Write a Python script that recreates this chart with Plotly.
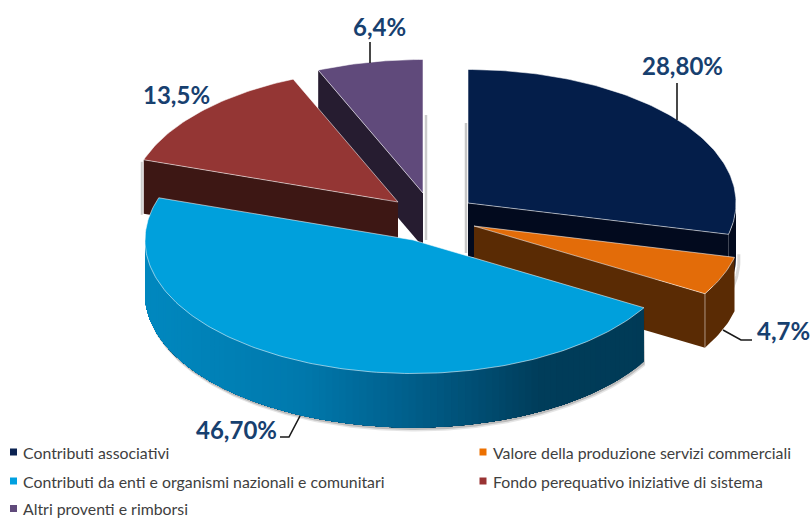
import math
import plotly.graph_objects as go

categories = ["Contributi associativi", "Valore della produzione servizi commerciali",
              "Contributi da enti e organismi nazionali e comunitari",
              "Fondo perequativo iniziative di sistema", "Altri proventi e rimborsi"]
values = [28.8, 4.7, 46.7, 13.5, 6.4]
value_labels = ["28,80%", "4,7%", "46,70%", "13,5%", "6,4%"]

# styling / layout (pixel space of the page)
top_colors = ["#041e4a", "#e36c09", "#00a0dc", "#943634", "#604a7b"]
wall_colors = ["#020a1e", "#5a2b04", "#003d5a", "#3d1714", "#261c30"]
legend_colors = ["#0b2352", "#ec7000", "#00a0e0", "#993333", "#604a7b"]
centres = [(468, 203), (474, 226), (413, 240), (398, 202), (423, 193)]
RX, RY, DEPTH = 268, 133.5, 54
label_pos = [(682, 65), (783, 330), (236, 429), (176, 94), (379, 26)]
leaders = [[(677, 83), (677, 120)], [(723, 330), (741, 340), (752, 340)],
           [(300, 416), (289, 437), (280, 437)], [], [(370, 42), (370, 63)]]
legend_pos = [(13.5, 452), (483, 452), (13.5, 481), (483, 481), (13.5, 508.5)]
DRAW_ORDER = [4, 3, 0, 1, 2]
LABEL = "#17406f"

total = sum(values)
bounds = [0]
for v in values:
    bounds.append(bounds[-1] + 360 * v / total)

fig = go.Figure()


def pt(c, deg, drop=0):
    t = math.radians(deg)
    return c[0] + RX * math.sin(t), c[1] - RY * math.cos(t) + drop


def arc(c, a, b, drop=0, step=1.0):
    n = max(2, int(abs(b - a) / step) + 1)
    return [pt(c, a + (b - a) * i / (n - 1), drop) for i in range(n)]


def poly(points, fill, line=None, width=0):
    fig.add_trace(go.Scatter(
        x=[p[0] for p in points] + [points[0][0]],
        y=[p[1] for p in points] + [points[0][1]],
        mode="lines", fill="toself", fillcolor=fill,
        line=dict(color=line or fill, width=width if line else 0),
        hoverinfo="skip", showlegend=False))


def path(points, color, width):
    fig.add_trace(go.Scatter(x=[p[0] for p in points], y=[p[1] for p in points], mode="lines",
                             line=dict(color=color, width=width), hoverinfo="skip", showlegend=False))


def hex2(c):
    return tuple(int(c[i:i + 2], 16) for i in (1, 3, 5))


def blue_rim_color(x):
    stops = [(145, "#0088bf"), (300, "#0079ad"), (400, "#00618e"), (480, "#004d72"),
             (540, "#003d5a"), (650, "#003a56")]
    for (x0, c0), (x1, c1) in zip(stops, stops[1:]):
        if x <= x1:
            f = max(0, (x - x0) / (x1 - x0))
            a, b = hex2(c0), hex2(c1)
            return "#%02x%02x%02x" % tuple(round(a[k] + (b[k] - a[k]) * f) for k in range(3))
    return stops[-1][1]


for i in DRAW_ORDER:
    c = centres[i]
    a, b = bounds[i], bounds[i + 1]
    # soft shadow of the slice block
    if i == 2:
        low = arc(c, a, 270, DEPTH)
        for off, alpha in ((4, 0.10), (2.5, 0.18)):
            poly([(x + off * 0.3, y + off) for x, y in low] + [pt(c, 270), pt(c, a)], f"rgba(0,0,0,{alpha})")
    if i == 0:
        path([(c[0] - 2, c[1] - 80), (c[0] - 2, c[1] + 50)], "rgba(0,0,0,0.22)", 2.5)
        s = arc(c, 88, b, DEPTH)
        path([(x + 3, y + 2) for x, y in s], "rgba(0,0,0,0.15)", 3)
    if i == 4:
        path([(c[0] + 3, c[1] - 78), (c[0] + 3, c[1] + 47)], "rgba(0,0,0,0.2)", 2.5)
    if i == 3:
        p0 = pt(c, a)
        path([(p0[0] - 2, p0[1] + 2), (p0[0] - 2, p0[1] + DEPTH + 1)], "rgba(0,0,0,0.2)", 2)

    # walls and rim
    if i in (0, 1):
        e = pt(c, b)
        poly([c, e, (e[0], e[1] + DEPTH), (c[0], c[1] + DEPTH)], wall_colors[i])
        top = arc(c, max(a, 90), b)
        poly(top + [(x, y + DEPTH) for x, y in reversed(top)], wall_colors[i])
        if i == 1:
            path([e, (e[0], e[1] + DEPTH)], "rgba(255,255,255,0.5)", 1)
    elif i == 2:
        # painter's order: each strip reaches to the end of the rim, so no seams show
        top = arc(c, a, 270, step=1.5)
        for k in range(len(top) - 1):
            rest = top[k:]
            col = blue_rim_color((top[k][0] + top[k + 1][0]) / 2)
            poly(rest + [(x, y + DEPTH) for x, y in reversed(rest)], col)
    else:
        s = pt(c, a)
        poly([c, s, (s[0], s[1] + DEPTH), (c[0], c[1] + DEPTH)], wall_colors[i])

    # top face
    outline = [c] + arc(c, a, b)
    poly(outline, top_colors[i], "rgba(255,255,255,0.55)", 1)

# leader lines
for pts in leaders:
    if pts:
        path(pts, "#1a1a1a", 1.6)

# legend keys
fig.add_trace(go.Scatter(x=[p[0] for p in legend_pos], y=[p[1] for p in legend_pos], mode="markers",
                         marker=dict(symbol="square", size=7, color=legend_colors, line=dict(width=0)),
                         hoverinfo="skip", showlegend=False))

ann = []
for t, (x, y) in zip(value_labels, label_pos):
    ann.append(dict(x=x, y=y, text=f"<b>{t}</b>", showarrow=False, xanchor="center", yanchor="middle",
                    font=dict(family="Lato", size=24, color=LABEL)))
for t, (x, y) in zip(categories, legend_pos):
    ann.append(dict(x=x + 7.5, y=y, text=t, showarrow=False, xanchor="left", yanchor="middle",
                    font=dict(family="Lato", size=15.85, color="#404040")))

fig.update_layout(
    width=811, height=519, margin=dict(l=0, r=0, t=0, b=0),
    paper_bgcolor="white", plot_bgcolor="white", showlegend=False, annotations=ann,
    xaxis=dict(range=[0, 811], visible=False, fixedrange=True),
    yaxis=dict(range=[519, 0], visible=False, fixedrange=True),
)
fig.write_html("out.html", config={"displayModeBar": False},
               post_script="document.body.style.margin='0';document.body.style.overflow='hidden';")
